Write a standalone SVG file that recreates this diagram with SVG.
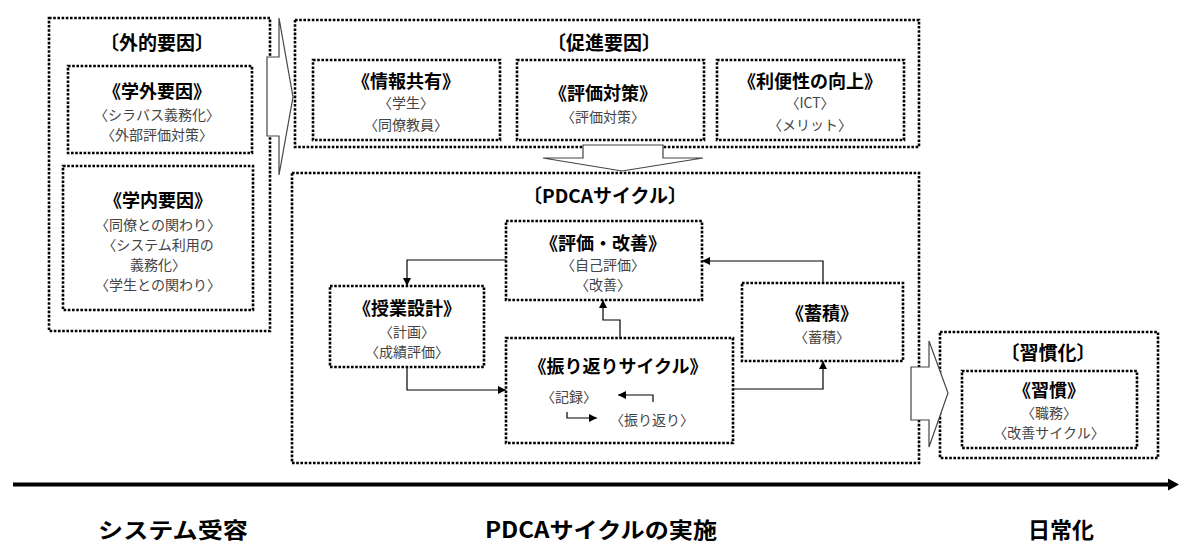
<svg xmlns="http://www.w3.org/2000/svg" width="1179" height="545" viewBox="0 0 1179 545">
<style>
.box{fill:none;stroke:#000;stroke-width:2.6;stroke-dasharray:2.6 1.6}
.big{fill:#fff;stroke:#444;stroke-width:1.2}
.t{font-family:"Noto Sans CJK JP","Noto Sans",sans-serif;font-weight:bold;font-size:19px;fill:#000;text-anchor:middle}
.h{font-family:"Noto Sans CJK JP","Noto Sans",sans-serif;font-weight:bold;font-size:18px;fill:#000;text-anchor:middle}
.s{font-family:"Noto Sans CJK JP","Noto Sans",sans-serif;font-size:14px;fill:#444;text-anchor:middle}
.ax{font-family:"Noto Sans CJK JP","Noto Sans",sans-serif;font-weight:bold;font-size:22px;fill:#000;text-anchor:middle}
.c{fill:none;stroke:#000;stroke-width:1.2}
</style>
<defs>
<marker id="ah" viewBox="0 0 10 10" refX="10" refY="5" markerWidth="8" markerHeight="8" markerUnits="userSpaceOnUse" orient="auto">
<path d="M0,0 L10,5 L0,10 Z" fill="#000"/>
</marker>
</defs>

<g id="external">
<rect class="box" x="49" y="18" width="221" height="313"/>
<text class="t" x="157" y="50">〔外的要因〕</text>
</g>
<g id="gakugai">
<rect class="box" x="68" y="66" width="184" height="87"/>
<text class="h" x="157" y="98">《学外要因》</text>
<text class="s" x="157" y="120">〈シラバス義務化〉</text>
<text class="s" x="157" y="140">〈外部評価対策〉</text>
</g>
<g id="gakunai">
<rect class="box" x="63" y="166" width="190" height="144"/>
<text class="h" x="158" y="207">《学内要因》</text>
<text class="s" x="158" y="230">〈同僚との関わり〉</text>
<text class="s" x="158" y="250">〈システム利用の</text>
<text class="s" x="158" y="270">義務化〉</text>
<text class="s" x="158" y="290">〈学生との関わり〉</text>
</g>

<g id="promote">
<rect class="box" x="295" y="20" width="624" height="127"/>
<text class="t" x="604" y="50">〔促進要因〕</text>
</g>
<g id="info">
<rect class="box" x="313" y="60" width="187" height="80"/>
<text class="h" x="406" y="88">《情報共有》</text>
<text class="s" x="406" y="108">〈学生〉</text>
<text class="s" x="406" y="130">〈同僚教員〉</text>
</g>
<g id="evalmeasure">
<rect class="box" x="517" y="60" width="187" height="80"/>
<text class="h" x="603" y="100">《評価対策》</text>
<text class="s" x="603" y="122">〈評価対策〉</text>
</g>
<g id="convenience">
<rect class="box" x="717" y="60" width="187" height="80"/>
<text class="h" x="810" y="88">《利便性の向上》</text>
<text class="s" x="810" y="108">〈ICT〉</text>
<text class="s" x="810" y="130">〈メリット〉</text>
</g>

<g id="pdca">
<rect class="box" x="292" y="173" width="627" height="290"/>
<text class="t" x="605" y="203">〔PDCAサイクル〕</text>
</g>
<g id="evalimprove">
<rect class="box" x="506" y="221" width="196" height="79"/>
<text class="h" x="603" y="250">《評価・改善》</text>
<text class="s" x="603" y="270">〈自己評価〉</text>
<text class="s" x="603" y="290">〈改善〉</text>
</g>
<g id="design">
<rect class="box" x="330" y="286" width="154" height="81"/>
<text class="h" x="407" y="315">《授業設計》</text>
<text class="s" x="407" y="337">〈計画〉</text>
<text class="s" x="407" y="357">〈成績評価〉</text>
</g>
<g id="reflection">
<rect class="box" x="506" y="338" width="227" height="105"/>
<text class="h" x="618" y="373">《振り返りサイクル》</text>
<text class="s" x="569" y="402">〈記録〉</text>
<text class="s" x="652" y="425">〈振り返り〉</text>
<path class="c" d="M653,402 L653,395 L618,395" marker-end="url(#ah)"/>
<path class="c" d="M567,412 L567,418 L597,418" marker-end="url(#ah)"/>
</g>
<g id="accumulate">
<rect class="box" x="742" y="283" width="161" height="78"/>
<text class="h" x="822" y="320">《蓄積》</text>
<text class="s" x="822" y="342">〈蓄積〉</text>
</g>

<g id="habitual">
<rect class="box" x="940" y="332" width="218" height="126"/>
<text class="t" x="1048" y="360">〔習慣化〕</text>
</g>
<g id="habit">
<rect class="box" x="962" y="371" width="175" height="77"/>
<text class="h" x="1049" y="397">《習慣》</text>
<text class="s" x="1049" y="418">〈職務〉</text>
<text class="s" x="1049" y="438">〈改善サイクル〉</text>
</g>

<g id="connectors">
<path class="big" d="M267,57 L279,57 L279,18 L293,97 L279,175 L279,136 L267,136 Z"/>
<path class="big" d="M583,145 L663,145 L663,158 L703,158 L622,171 L543,158 L583,158 Z"/>
<path class="big" d="M911,367 L929,367 L929,341 L948,393 L929,447 L929,420 L911,420 Z"/>
<path class="c" d="M506,260 L407,260 L407,286" marker-end="url(#ah)"/>
<path class="c" d="M407,367 L407,390 L506,390" marker-end="url(#ah)"/>
<path class="c" d="M620,338 L620,320 L603,320 L603,300" marker-end="url(#ah)"/>
<path class="c" d="M733,389 L823,389 L823,361" marker-end="url(#ah)"/>
<path class="c" d="M823,283 L823,261 L702,261" marker-end="url(#ah)"/>
<line x1="13" y1="484.5" x2="1170" y2="484.5" stroke="#000" stroke-width="4"/>
<path d="M1168,478.5 L1179,484.5 L1168,490.5 Z" fill="#000"/>
</g>

<g id="axis-labels">
<text class="ax" x="173" y="538" textLength="150" lengthAdjust="spacingAndGlyphs">システム受容</text>
<text class="ax" x="601" y="538" textLength="232" lengthAdjust="spacingAndGlyphs">PDCAサイクルの実施</text>
<text class="ax" x="1061" y="538">日常化</text>
</g>
</svg>
